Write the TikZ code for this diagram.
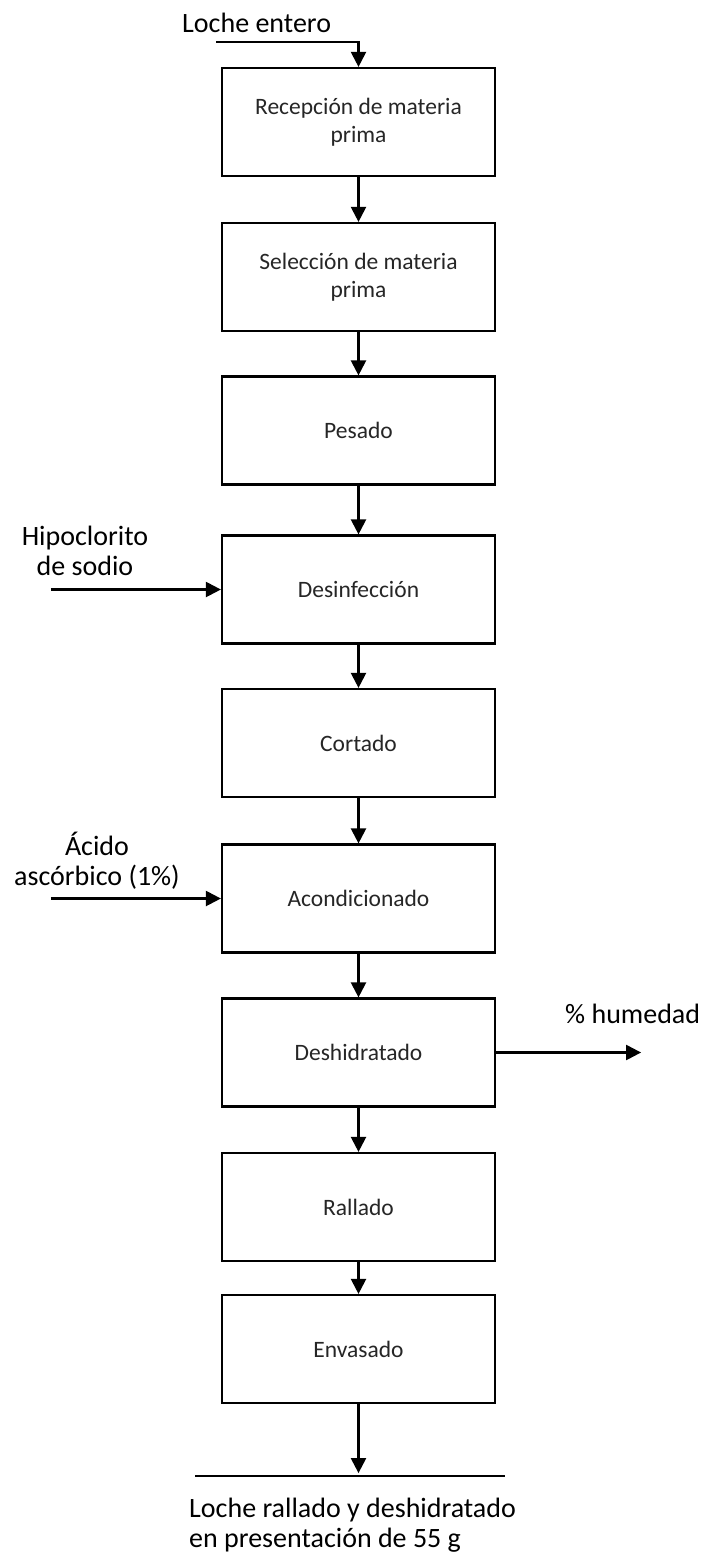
\documentclass[tikz,border=0pt]{standalone}
\usepackage{fontspec}
\setmainfont{Carlito}
\usetikzlibrary{arrows.meta,calc}
\begin{document}
\begin{tikzpicture}[x=1pt,y=-1pt,
  stepbox/.style={draw=black, line width=2.2pt, fill=white,
    minimum width=273pt, minimum height=108pt, inner sep=0pt,
    align=center, font=\fontsize{23.5}{28}\selectfont, text=black!85},
  flow/.style={line width=2.2pt, -{Triangle[length=15pt,width=15pt]}},
  plain/.style={line width=2.2pt},
  lbl/.style={font=\fontsize{28}{30}\selectfont, inner sep=0pt, align=center, text=black}
]
\useasboundingbox (0,0) rectangle (708,1556);

% process steps
\node[stepbox] (b1) at (358.5,122)  {Recepción de materia\\prima};
\node[stepbox] (b2) at (358.5,277)  {Selección de materia\\prima};
\node[stepbox] (b3) at (358.5,430.5) {Pesado};
\node[stepbox] (b4) at (358.5,589.5) {Desinfección};
\node[stepbox] (b5) at (358.5,743)  {Cortado};
\node[stepbox] (b6) at (358.5,898.5) {Acondicionado};
\node[stepbox] (b7) at (358.5,1052.5) {Deshidratado};
\node[stepbox] (b8) at (358.5,1207) {Rallado};
\node[stepbox] (b9) at (358.5,1349) {Envasado};

% main flow
\foreach \a/\b in {b1/b2,b2/b3,b3/b4,b4/b5,b5/b6,b6/b7,b7/b8,b8/b9}
  \draw[flow] (\a.south) -- (\b.north);

% raw material input
\node[lbl, anchor=base west] (t0) at (182,32) {Loche entero};
\coordinate (in0) at (216,42);
\draw[flow] (in0) -| (b1.north);

% side inputs (base anchor sits on the last line)
\node[lbl, anchor=base] (t1) at (85,575) {Hipoclorito\\de sodio};
\coordinate (in1) at ($(b4.west)+(-170,0)$);
\draw[flow] (in1) -- (b4.west);

\node[lbl, anchor=base] (t2) at (97,885) {Ácido\\ascórbico (1\%)};
\coordinate (in2) at ($(b6.west)+(-170,0)$);
\draw[flow] (in2) -- (b6.west);

% moisture output
\node[lbl, anchor=base west] (t3) at (565,1023) {\% humedad};
\coordinate (out1) at ($(b7.east)+(145,0)$);
\draw[flow] (b7.east) -- (out1);

% final product
\coordinate (out2) at ($(b9.south)+(0,69)$);
\draw[flow] (b9.south) -- (out2);
\coordinate (baseL) at (195,1476);
\coordinate (baseR) at (505,1476);
\draw[plain] (baseL) -- (baseR);
\node[lbl, anchor=base west, align=left] (t4) at (189,1547) {Loche rallado y deshidratado\\en presentación de 55 g};
\end{tikzpicture}
\end{document}
